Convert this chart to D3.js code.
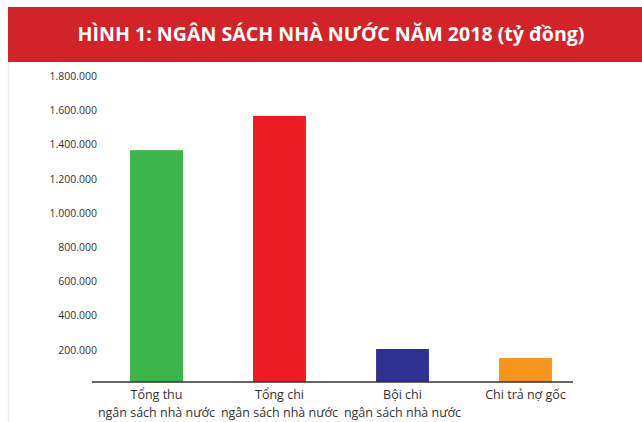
<!DOCTYPE html>
<html>
<head>
<meta charset="utf-8">
<script src="https://cdn.jsdelivr.net/npm/d3@7"></script>
<style>
  body { margin: 0; background: #fff; }
  svg { display: block; }
</style>
</head>
<body>
<svg id="chart" width="642" height="422"></svg>
<script>
// data (tỷ đồng)
var categories = ["Tổng thu|ngân sách nhà nước", "Tổng chi|ngân sách nhà nước", "Bội chi|ngân sách nhà nước", "Chi trả nợ gốc"];
var values = [1355000, 1555000, 193000, 140000];
var colors = ["#3bb54a", "#ed1c24", "#2e3192", "#f7941d"];
var yTicks = [200000, 400000, 600000, 800000, 1000000, 1200000, 1400000, 1600000, 1800000];
var title = "HÌNH 1: NGÂN SÁCH NHÀ NƯỚC NĂM 2018 (tỷ đồng)";

var svg = d3.select("#chart");
var width = 642, height = 422;

// frame: light left rule + red banner
svg.append("line")
  .attr("x1", 8.5).attr("x2", 8.5).attr("y1", 62).attr("y2", height)
  .attr("stroke", "#f5ece4").attr("stroke-width", 1.5);

svg.append("rect")
  .attr("x", 8).attr("y", 7).attr("width", width - 8).attr("height", 55)
  .attr("fill", "#d2232a");

var t = svg.append("text")
  .attr("x", 331).attr("y", 41)
  .attr("text-anchor", "middle")
  .attr("fill", "#fff")
  .style("font-family", "'Open Sans', sans-serif")
  .style("font-weight", "bold")
  .style("font-size", "20px")
  .text(title);
// squeeze to the condensed width of the original
if (t.node().getComputedTextLength() > 507) {
  t.attr("textLength", 507).attr("lengthAdjust", "spacingAndGlyphs");
}

var y = d3.scaleLinear().domain([0, 1800000]).range([382, 74]);
var x = d3.scaleBand().domain(categories).range([95, 587]).paddingInner(0.57).paddingOuter(0.285);

var fmt = function(d) { return d3.format(",")(d).replace(/,/g, "."); };

var yAxis = svg.append("g")
  .attr("transform", "translate(97,2)")
  .call(d3.axisLeft(y).tickValues(yTicks).tickFormat(fmt).tickSize(0).tickPadding(0));
yAxis.select(".domain").remove();
yAxis.selectAll("text")
  .attr("fill", "#333")
  .style("font-family", "'Open Sans', sans-serif")
  .style("font-size", "10.5px");

svg.selectAll("rect.bar")
  .data(values)
  .enter().append("rect")
  .attr("class", "bar")
  .attr("x", function(d, i) { return x(categories[i]); })
  .attr("width", x.bandwidth())
  .attr("y", function(d) { return y(d); })
  .attr("height", function(d) { return y(0) - y(d); })
  .attr("fill", function(d, i) { return colors[i]; });

// baseline
svg.append("line")
  .attr("x1", 92).attr("x2", 573).attr("y1", y(0)).attr("y2", y(0))
  .attr("stroke", "#333").attr("stroke-width", 1.5);

var labels = svg.selectAll("text.cat")
  .data(categories)
  .enter().append("text")
  .attr("class", "cat")
  .attr("text-anchor", "middle")
  .attr("fill", "#333")
  .style("font-family", "'Open Sans', sans-serif")
  .style("font-size", "12.5px")
  .attr("transform", function(d) { return "translate(" + (x(d) + x.bandwidth() / 2) + ",0)"; });

labels.selectAll("tspan")
  .data(function(d) { return d.split("|"); })
  .enter().append("tspan")
  .attr("x", 0)
  .attr("y", function(d, i) { return 399 + i * 18; })
  .text(function(d) { return d; });
</script>
</body>
</html>
